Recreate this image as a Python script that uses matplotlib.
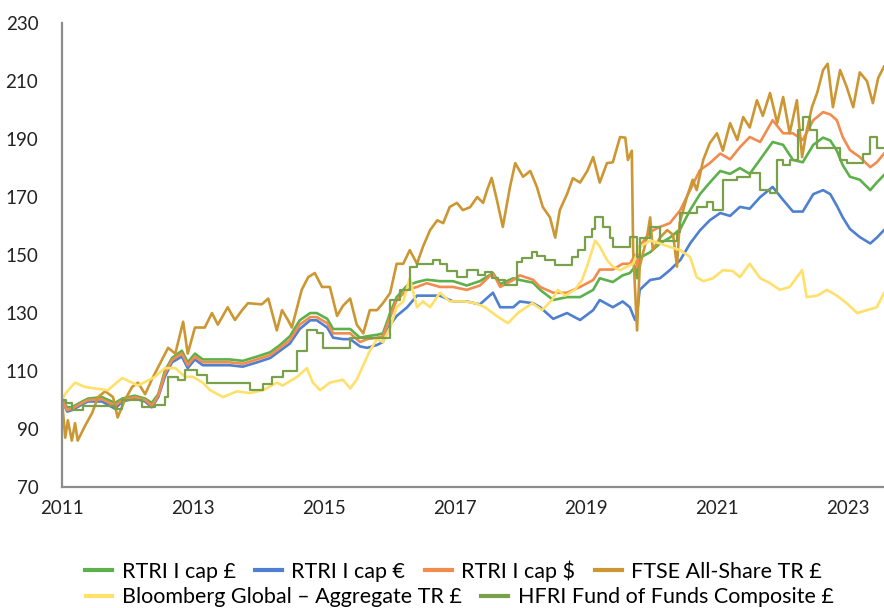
import matplotlib
matplotlib.use("Agg")
import matplotlib.pyplot as plt
import numpy as np

plt.rcParams["font.family"] = ["Lato", "DejaVu Sans"]

# RTRI series share one date axis (decimal years)
rtri_years = [2011.00, 2011.08, 2011.15, 2011.31, 2011.40, 2011.61, 2011.81, 2011.92, 2012.11, 2012.27,
              2012.37, 2012.47, 2012.57, 2012.68, 2012.83, 2012.92, 2013.03, 2013.15, 2013.37, 2013.56,
              2013.76, 2013.98, 2014.18, 2014.33, 2014.48, 2014.63, 2014.79, 2014.89, 2015.05, 2015.14,
              2015.29, 2015.40, 2015.55, 2015.66, 2015.81, 2015.90, 2016.01, 2016.11, 2016.27, 2016.42,
              2016.57, 2016.77, 2016.97, 2017.18, 2017.38, 2017.58, 2017.69, 2017.89, 2017.99, 2018.19,
              2018.30, 2018.50, 2018.71, 2018.91, 2019.11, 2019.21, 2019.41, 2019.56, 2019.67, 2019.75,
              2019.78, 2019.82, 2019.98, 2020.13, 2020.28, 2020.44, 2020.59, 2020.74, 2020.89, 2021.05,
              2021.20, 2021.35, 2021.50, 2021.66, 2021.85, 2022.01, 2022.16, 2022.31, 2022.47, 2022.62,
              2022.73, 2022.83, 2022.92, 2023.03, 2023.18, 2023.34, 2023.44, 2023.55]

rtri_gbp = [100, 97.5, 97.5, 99.5, 100.5, 101, 99, 100.5, 101.5, 100.5,
            99, 102, 110, 114.5, 117, 113, 116, 114, 114, 114,
            113.5, 115, 116.5, 119, 122, 127.5, 130, 130, 128, 124.5,
            124.5, 124.5, 121.5, 122, 122.5, 123, 130, 135.5, 139.5, 140.7,
            141.5, 141, 141, 139.5, 141, 143.8, 140, 142, 141.4, 140.5,
            138, 134.5, 135.5, 135.5, 138, 142, 140.7, 143, 143.8, 146,
            142, 149, 151, 154, 156, 159, 165.5, 171, 175, 179,
            178, 180, 178, 183, 189, 188, 182.8, 182, 188, 190.5,
            189.5, 186, 181, 177, 176, 172.4, 175, 177.6]

rtri_eur = [100, 96, 96.5, 98.5, 99.5, 99.5, 97, 99.5, 100.5, 99.5,
            97.5, 101, 108, 113, 115, 111, 114, 112, 112, 112,
            111.5, 113, 114.5, 117, 119.5, 124.5, 127.5, 127.5, 125, 121.5,
            121, 121, 118.5, 118, 119, 120, 126, 129, 132, 136,
            136, 136, 134, 134, 133, 137, 132, 132, 134, 133.4,
            132, 128, 130, 127.6, 131, 134.5, 132, 134, 132, 127.6,
            130, 138, 141.4, 142, 144.8, 148.3, 154, 158.5, 162, 164.5,
            163.5, 166.6, 166, 170, 173.5, 169, 165, 165, 171, 172.4,
            171, 167, 163, 159, 156.2, 154, 156, 158.6]

rtri_usd = [100, 96.5, 97, 99, 100, 100.3, 98, 100, 101, 100,
            98, 101.5, 109, 113.8, 116, 112, 115, 113, 113, 113,
            112.5, 114, 115.5, 118, 120.7, 126, 128.6, 128.6, 126.5, 123,
            123, 123, 120, 121, 121.5, 122, 128.6, 134.5, 138, 139,
            140.3, 139, 139, 138, 139.5, 143.8, 139, 141.4, 143, 141.5,
            139, 137, 137, 139, 141.4, 145, 145, 147, 147, 150,
            146, 153, 158, 159.7, 161, 165.5, 172.4, 179.3, 181.7, 185,
            183, 187.2, 190.7, 189, 196.5, 192, 192, 189.7, 196.5, 199.3,
            198.5, 196.5, 190.7, 186.2, 183.8, 180.3, 182, 185]

ftse_years = [2011.00, 2011.05, 2011.09, 2011.15, 2011.20, 2011.24, 2011.35, 2011.46, 2011.55, 2011.66,
              2011.78, 2011.85, 2011.96, 2012.07, 2012.16, 2012.27, 2012.37, 2012.53, 2012.62, 2012.73,
              2012.85, 2012.92, 2013.03, 2013.18, 2013.29, 2013.38, 2013.53, 2013.64, 2013.75, 2013.84,
              2014.05, 2014.15, 2014.28, 2014.36, 2014.45, 2014.51, 2014.66, 2014.76, 2014.86, 2014.97,
              2015.09, 2015.20, 2015.29, 2015.40, 2015.50, 2015.60, 2015.70, 2015.81, 2015.90, 2016.01,
              2016.11, 2016.21, 2016.31, 2016.42, 2016.51, 2016.62, 2016.73, 2016.82, 2016.92, 2017.03,
              2017.12, 2017.23, 2017.34, 2017.43, 2017.49, 2017.56, 2017.64, 2017.73, 2017.84, 2017.92,
              2018.04, 2018.15, 2018.25, 2018.34, 2018.45, 2018.53, 2018.60, 2018.71, 2018.80, 2018.91,
              2019.02, 2019.11, 2019.21, 2019.32, 2019.41, 2019.52, 2019.60, 2019.64, 2019.70, 2019.72,
              2019.78, 2019.82, 2019.93, 2019.98, 2020.02, 2020.13, 2020.24, 2020.33, 2020.39, 2020.43,
              2020.54, 2020.63, 2020.69, 2020.79, 2020.89, 2021.00, 2021.09, 2021.20, 2021.31, 2021.40,
              2021.50, 2021.61, 2021.70, 2021.81, 2021.92, 2022.01, 2022.11, 2022.22, 2022.30, 2022.37,
              2022.45, 2022.53, 2022.62, 2022.69, 2022.77, 2022.88, 2022.98, 2023.08, 2023.18, 2023.29,
              2023.38, 2023.46, 2023.55]

ftse = [100, 87, 93, 86, 92, 86, 91, 95.5, 101, 103,
        101, 94, 100, 104.5, 106, 102, 107, 114, 118, 116,
        127, 116, 125, 125, 130, 126, 132, 127.6, 131, 133.4,
        133, 135, 124, 131, 127.6, 125, 138, 142.4, 143.8, 139,
        139, 129, 132.5, 135, 126, 123, 131, 131, 133.4, 136.9,
        147, 147, 151.7, 147, 152.8, 158.6, 162, 161, 166.6, 168,
        165.5, 166.5, 170, 168, 172.4, 176.6, 169, 159.7, 173.5, 181.7,
        177, 179, 173.5, 166.6, 163, 156, 165.5, 171, 176.5, 175,
        179, 183.8, 175, 181.7, 182, 190.7, 190.5, 182.8, 186, 151.7,
        124, 146, 156, 163, 151.7, 156, 158.6, 157, 146, 161,
        170, 176, 172.4, 182.8, 188.6, 192, 186, 195.5, 189.7, 197.6,
        194, 203.4, 198, 205.9, 195.5, 204.5, 192, 203.4, 183.8, 193,
        201, 206, 213.8, 216, 201, 213.8, 208, 201, 213, 210,
        202.4, 211, 215]

bbg_years = [2011.00, 2011.06, 2011.12, 2011.20, 2011.35, 2011.50, 2011.70, 2011.92, 2012.16, 2012.42,
             2012.57, 2012.73, 2012.88, 2013.00, 2013.15, 2013.26, 2013.46, 2013.67, 2013.87, 2014.07,
             2014.28, 2014.37, 2014.59, 2014.74, 2014.83, 2014.94, 2015.09, 2015.29, 2015.40, 2015.50,
             2015.60, 2015.70, 2015.81, 2015.90, 2016.01, 2016.11, 2016.21, 2016.31, 2016.42, 2016.51,
             2016.62, 2016.77, 2016.92, 2017.15, 2017.31, 2017.46, 2017.66, 2017.81, 2017.96, 2018.18,
             2018.33, 2018.48, 2018.57, 2018.68, 2018.83, 2018.94, 2019.03, 2019.14, 2019.21, 2019.32,
             2019.41, 2019.52, 2019.72, 2019.82, 2019.98, 2020.13, 2020.28, 2020.44, 2020.59, 2020.69,
             2020.79, 2020.94, 2021.09, 2021.24, 2021.35, 2021.50, 2021.66, 2021.81, 2021.96, 2022.11,
             2022.30, 2022.37, 2022.53, 2022.68, 2022.83, 2022.98, 2023.14, 2023.29, 2023.44, 2023.55]

bbg = [100, 102.5, 104, 106, 104.5, 104, 103.4, 107.6, 105, 108,
       111, 111, 108, 108, 106, 103.4, 101, 103, 102.4, 103.4,
       106, 105, 108, 111, 106, 103.4, 106, 107, 104, 107,
       112, 117, 121, 120, 125, 132, 134, 142, 132, 134,
       132, 137, 134, 134, 133.4, 132, 128.6, 126.5, 130, 133.4,
       131, 134.5, 138, 136, 138, 141.4, 147, 155, 153, 148.3,
       146, 144.8, 147, 152.8, 155, 154, 152.8, 151.7, 149.3, 142.4,
       141, 142, 144.8, 144.5, 142.4, 147, 142, 140.3, 138, 139,
       144.8, 135.5, 136, 138, 136, 133.4, 130, 131, 132, 136.9]

hfri_years = [2011.00, 2011.06, 2011.15, 2011.32, 2011.81, 2011.92, 2012.22, 2012.42, 2012.57, 2012.62,
              2012.77, 2012.88, 2013.06, 2013.21, 2013.87, 2014.07, 2014.21, 2014.37, 2014.59, 2014.74,
              2014.89, 2014.98, 2015.40, 2016.01, 2016.16, 2016.31, 2016.42, 2016.66, 2016.77, 2016.88,
              2017.03, 2017.18, 2017.35, 2017.46, 2017.56, 2017.66, 2017.76, 2017.95, 2018.02, 2018.18,
              2018.25, 2018.37, 2018.53, 2018.79, 2018.88, 2018.98, 2019.09, 2019.14, 2019.26, 2019.37,
              2019.41, 2019.67, 2019.78, 2019.82, 2019.98, 2020.13, 2020.39, 2020.44, 2020.69, 2020.85,
              2020.94, 2021.09, 2021.31, 2021.50, 2021.66, 2021.81, 2021.92, 2022.01, 2022.11, 2022.24,
              2022.31, 2022.42, 2022.53, 2022.88, 2022.98, 2023.23, 2023.34, 2023.44, 2023.55]

hfri = [100, 99, 96.6, 98, 97, 100, 97.6, 98.3, 101, 108,
        107, 110.3, 108.6, 106, 103.4, 105.5, 108, 110, 117, 124,
        123, 118, 121.5, 134.5, 138, 146, 147, 148.3, 147, 144.5,
        142.5, 145, 143, 144, 142, 141.4, 139.6, 147.6, 149, 151,
        149.7, 148.3, 146.5, 149.3, 151.7, 156.2, 159, 163, 159.7, 156,
        152.8, 156.2, 149.3, 156, 159.7, 155, 158, 164.5, 166.6, 168.3,
        165.5, 176, 177, 178.3, 172.4, 171.4, 182.8, 181, 182.8, 193,
        197.6, 193, 186.9, 182.8, 181.7, 185, 190.7, 187, 187]

labels = ["RTRI I cap £", "RTRI I cap €", "RTRI I cap $", "FTSE All-Share TR £",
          "Bloomberg Global – Aggregate TR £", "HFRI Fund of Funds Composite £"]
colors = ["#5DB14A", "#4F7FD0", "#F38B4F", "#CC9733", "#FFE06A", "#78A14A"]

fig = plt.figure(figsize=(8.84, 6.08), dpi=100)
ax = fig.add_axes([0.0701, 0.199, 0.9299, 0.763])

lines = []
lines += ax.plot(rtri_years, rtri_gbp, color=colors[0], lw=1.9, label=labels[0])
lines += ax.plot(rtri_years, rtri_eur, color=colors[1], lw=1.9, label=labels[1])
lines += ax.plot(rtri_years, rtri_usd, color=colors[2], lw=1.9, label=labels[2])
lines += ax.plot(ftse_years, ftse, color=colors[3], lw=1.9, label=labels[3])
lines += ax.plot(bbg_years, bbg, color=colors[4], lw=1.9, label=labels[4])
lines += ax.plot(hfri_years, hfri, color=colors[5], lw=1.6, drawstyle="steps-post", label=labels[5])

ax.set_xlim(2011, 2023.55)
ax.set_ylim(70, 230)
ax.set_xticks(range(2011, 2024, 2))
ax.set_yticks(range(70, 231, 20))
for s in ["top", "right"]:
    ax.spines[s].set_visible(False)
for s in ["left", "bottom"]:
    ax.spines[s].set_color("#8C8C8C")
    ax.spines[s].set_linewidth(1.6)
ax.tick_params(axis="both", length=0, labelsize=13.5, colors="#222222")
ax.tick_params(axis="y", pad=17)
ax.tick_params(axis="x", pad=9)

leg_kw = dict(loc="center", frameon=False, fontsize=15.5, handlelength=1.25,
              handletextpad=0.45, columnspacing=0.9, borderaxespad=0)
leg1 = fig.legend(lines[:4], labels[:4], bbox_to_anchor=(0.513, 0.061), ncol=4, **leg_kw)
leg2 = fig.legend(lines[4:], labels[4:], bbox_to_anchor=(0.52, 0.018), ncol=2, **leg_kw)
for leg in (leg1, leg2):
    for h in leg.get_lines():
        h.set_linewidth(3)

fig.savefig("out.png", dpi=100)
